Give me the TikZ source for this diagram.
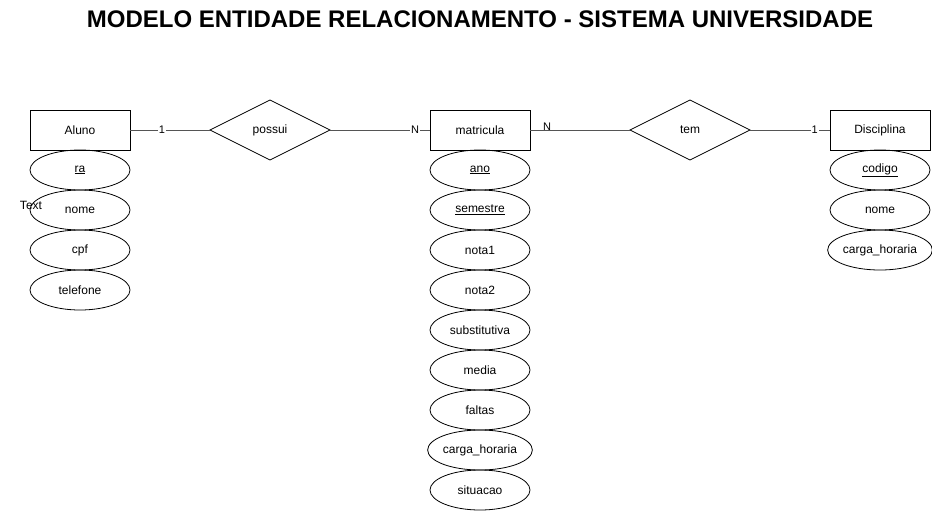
\documentclass[tikz,border=0pt]{standalone}
\usepackage{fontspec}
\setmainfont{Liberation Sans}
\usetikzlibrary{shapes.geometric}

\begin{document}
\begin{tikzpicture}[x=1pt,y=-1pt,
  entidade/.style={draw, line width=0.8pt, minimum width=100pt, minimum height=40pt, inner sep=0, outer sep=0, font=\fontsize{12pt}{12pt}\selectfont},
  atributo/.style={draw, ellipse, line width=0.8pt, minimum width=100pt, minimum height=40pt, inner sep=0, outer sep=0, font=\fontsize{12pt}{12pt}\selectfont},
  relacao/.style={draw, diamond, line width=0.8pt, minimum width=120pt, minimum height=60pt, inner sep=0, outer sep=0, font=\fontsize{12pt}{12pt}\selectfont},
  ligacao/.style={line width=1pt, custcol_55},
  card/.style={fill=white, text=black, inner sep=1pt, font=\fontsize{11pt}{11pt}\selectfont}]
\definecolor{custcol_55}{RGB}{85, 85, 85}
\useasboundingbox (0,0) rectangle (932,512);
% titulo
\node[font=\fontsize{24pt}{24pt}\bfseries\selectfont] (titulo) at (480,19) {MODELO ENTIDADE RELACIONAMENTO - SISTEMA UNIVERSIDADE};
% entidades
\node[entidade] (aluno) at (80,130) {Aluno};
\node[entidade] (matricula) at (480,130) {matricula};
\node[entidade] (disciplina) at (880,130) {Disciplina};
% relacionamentos
\node[relacao] (possui) at (270,130) {possui};
\node[relacao] (tem) at (690,130) {tem};
% atributos aluno
\node[atributo] (aluno_ra) at (80,170) {\underline{ra}};
\node[atributo] (aluno_nome) at (80,210) {nome};
\node[atributo] (aluno_cpf) at (80,250) {cpf};
\node[atributo] (aluno_tel) at (80,290) {telefone};
\node[inner sep=0, font=\fontsize{12pt}{12pt}\selectfont] (solto) at (31,205) {Text};
% atributos matricula
\node[atributo] (mat_ano) at (480,170) {\underline{ano}};
\node[atributo] (mat_sem) at (480,210) {\underline{semestre}};
\node[atributo] (mat_n1) at (480,250) {nota1};
\node[atributo] (mat_n2) at (480,290) {nota2};
\node[atributo] (mat_sub) at (480,330) {substitutiva};
\node[atributo] (mat_media) at (480,370) {media};
\node[atributo] (mat_faltas) at (480,410) {faltas};
\node[atributo] (mat_ch) at (480,450) {carga\_horaria};
\node[atributo] (mat_sit) at (480,490) {situacao};
% atributos disciplina
\node[atributo] (disc_cod) at (880,170) {\underline{codigo}};
\node[atributo] (disc_nome) at (880,210) {nome};
\node[atributo] (disc_ch) at (880,250) {carga\_horaria};
% ligacoes
\draw[ligacao] (aluno) -- node[card, pos=0.4] {1} (possui);
\draw[ligacao] (possui) -- node[card, pos=0.85] {N} (matricula);
\draw[ligacao] (matricula) -- node[card, pos=0.17, yshift=3pt, fill=none] {N} (tem);
\draw[ligacao] (tem) -- node[card, pos=0.81] {1} (disciplina);
\end{tikzpicture}
\end{document}
